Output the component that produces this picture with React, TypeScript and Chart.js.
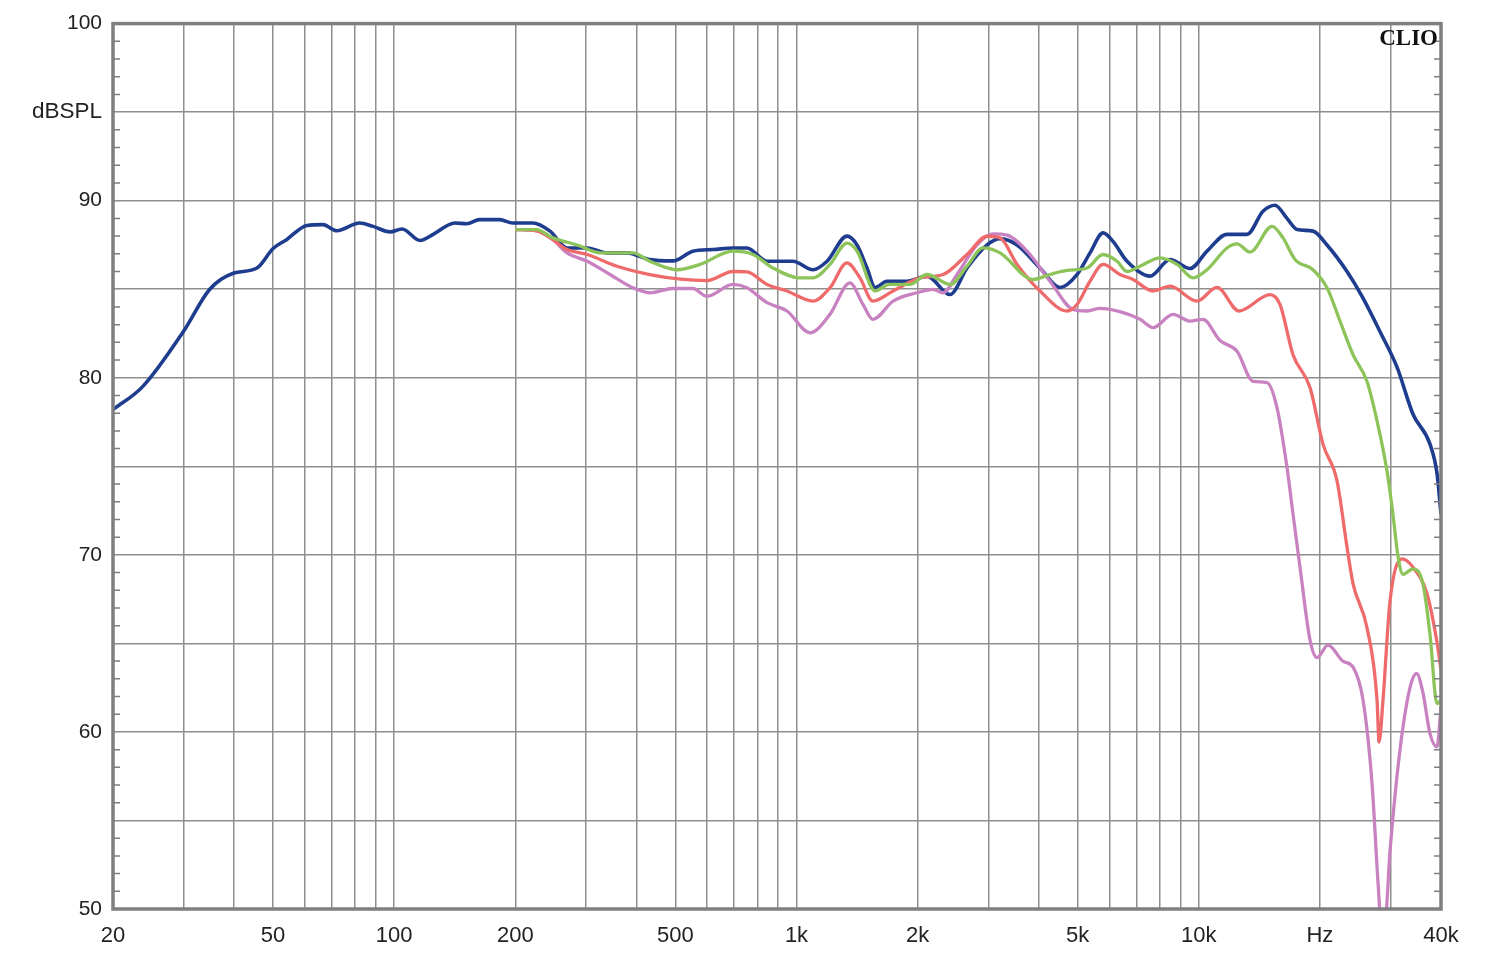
import React, { useEffect, useRef } from "react";
import { Chart, registerables } from "chart.js";

Chart.register(...registerables);

// Frequency grid ticks (Hz) and their labels
const FREQ_TICKS = [
  20, 30, 40, 50, 60, 70, 80, 90, 100,
  200, 300, 400, 500, 600, 700, 800, 900, 1000,
  2000, 3000, 4000, 5000, 6000, 7000, 8000, 9000, 10000,
  20000, 30000, 40000,
];
const FREQ_LABELS: Record<number, string> = {
  20: "20", 50: "50", 100: "100", 200: "200", 500: "500",
  1000: "1k", 2000: "2k", 5000: "5k", 10000: "10k", 20000: "Hz", 40000: "40k",
};
const DB_MIN = 50;
const DB_MAX = 100;
const DB_STEP = 5;
const DB_MINOR_STEP = 1;
const DB_UNIT_AT = 95;
const DB_UNIT = "dBSPL";
const BRAND = "CLIO";

// [frequency Hz, dB SPL]
const BLUE: [number, number][] = [
  [20, 78.2], [23.7, 79.5], [29.9, 82.6], [34.8, 85.0], [39.8, 85.9], [45.6, 86.2],
  [50, 87.3], [54, 87.8], [60.7, 88.6], [66.5, 88.65], [72, 88.3], [82, 88.74],
  [88.6, 88.55], [97.6, 88.24], [104.6, 88.4], [116, 87.75], [125, 88.1], [141.6, 88.74],
  [151.6, 88.7], [163, 88.93], [183, 88.93], [197, 88.74], [221, 88.74], [244, 88.28],
  [269, 87.33], [302, 87.33], [338, 87.05], [379, 87.05], [432, 86.67], [493, 86.6],
  [553, 87.15], [620, 87.24], [695, 87.33], [753, 87.33], [845, 86.58], [980, 86.58],
  [1099, 86.1], [1191, 86.58], [1335, 88.0], [1414, 87.5], [1497, 86.2], [1568, 85.1],
  [1679, 85.45], [1882, 85.45], [2110, 85.74], [2408, 84.7], [2654, 86.2], [2977, 87.5],
  [3206, 87.86], [3534, 87.5], [4030, 86.2], [4519, 85.1], [4980, 85.83], [5366, 87.05],
  [5781, 88.18], [6120, 87.7], [6632, 86.58], [7564, 85.74], [8483, 86.68], [9511, 86.17],
  [10484, 87.15], [11752, 88.1], [13178, 88.1], [14442, 89.4], [15468, 89.74], [16568, 89.0],
  [17546, 88.37], [19224, 88.28], [20832, 87.5], [23360, 86.0], [25600, 84.5], [28220, 82.6],
  [31100, 80.6], [34080, 77.94], [37560, 76.25], [39100, 74.6], [40000, 72.3],
];

const GREEN: [number, number][] = [
  [200, 88.37], [226, 88.37], [248, 87.9], [285, 87.5], [325, 87.05], [392, 87.05],
  [432, 86.58], [505, 86.1], [576, 86.4], [695, 87.15], [780, 86.96], [874, 86.2],
  [1020, 85.64], [1099, 85.64], [1211, 86.4], [1335, 87.6], [1414, 87.15], [1568, 84.9],
  [1702, 85.27], [1914, 85.27], [2110, 85.83], [2408, 85.27], [2654, 86.3], [2908, 87.33],
  [3206, 87.05], [3872, 85.55], [4268, 85.83], [4704, 86.06], [5276, 86.2], [5781, 86.96],
  [6262, 86.58], [6632, 86.0], [7142, 86.3], [8010, 86.77], [8830, 86.4], [9676, 85.64],
  [10484, 86.1], [11752, 87.33], [12446, 87.56], [13412, 87.1], [15206, 88.55], [16194, 87.9],
  [17346, 86.68], [19224, 86.1], [20832, 85.08], [22440, 83.2], [24180, 81.3], [26180, 79.8],
  [27740, 77.56], [29360, 74.75], [30380, 72.3], [31280, 69.9], [32180, 68.9], [34080, 69.2],
  [36080, 68.36], [37560, 65.5], [39100, 61.6], [40000, 61.8],
];

const RED: [number, number][] = [
  [200, 88.37], [226, 88.3], [248, 87.8], [269, 87.24], [302, 86.96], [358, 86.3],
  [432, 85.83], [522, 85.55], [599, 85.49], [695, 86.0], [753, 85.98], [845, 85.27],
  [947, 84.9], [1099, 84.33], [1211, 85.08], [1335, 86.49], [1438, 85.64], [1549, 84.33],
  [1738, 84.9], [2028, 85.64], [2314, 85.83], [2654, 86.96], [2977, 87.99], [3206, 87.9],
  [3534, 86.4], [4030, 84.9], [4704, 83.77], [4980, 84.14], [5366, 85.45], [5781, 86.4],
  [6370, 85.83], [6862, 85.55], [7696, 84.9], [8483, 85.17], [9900, 84.33], [11098, 85.1],
  [12588, 83.77], [15032, 84.7], [15914, 84.14], [17148, 81.3], [18898, 79.45], [20358, 76.25],
  [22060, 74.18], [23360, 70.43], [24180, 68.36], [26180, 65.9], [27740, 61.8], [28060, 59.43],
  [28700, 61.8], [29880, 67.4], [32000, 69.77], [34080, 69.3], [36920, 67.8], [39000, 65.2],
  [40000, 63.5],
];

const PINK: [number, number][] = [
  [200, 88.37], [226, 88.3], [248, 87.8], [269, 87.05], [302, 86.58], [344, 85.83],
  [392, 85.08], [432, 84.8], [493, 85.04], [553, 85.04], [599, 84.6], [695, 85.27],
  [753, 85.08], [845, 84.24], [947, 83.77], [1080, 82.54], [1211, 83.58], [1358, 85.36],
  [1463, 84.14], [1549, 83.3], [1738, 84.33], [1993, 84.8], [2184, 84.99], [2314, 84.8],
  [2506, 85.83], [2810, 87.5], [3078, 88.12], [3336, 88.05], [3742, 87.15], [4268, 85.45],
  [4868, 83.86], [5276, 83.77], [5680, 83.92], [6370, 83.73], [7142, 83.3], [7696, 82.83],
  [8628, 83.58], [9511, 83.2], [10244, 83.3], [11294, 82.1], [12446, 81.5], [13638, 79.8],
  [14776, 79.73], [15644, 78.32], [16568, 74.94], [17148, 72.3], [17848, 69.3], [18898, 65.2],
  [19670, 64.2], [20948, 64.9], [22820, 64.0], [24180, 63.66], [25600, 61.8], [26952, 57.1],
  [27894, 51.5], [28380, 49.3], [29020, 49.3], [29880, 53.3], [31620, 58.96], [33500, 62.5],
  [34800, 63.3], [36080, 62.2], [37560, 59.9], [39100, 59.15], [40000, 61.4],
];

const SERIES = [
  { data: GREEN, color: "#8cc45a", width: 3.3 },
  { data: RED, color: "#ef6b6b", width: 3.3 },
  { data: PINK, color: "#c882c2", width: 3.3 },
  { data: BLUE, color: "#1f3d8f", width: 3.6 },
];

const GRID = "#8e8e8e";
const FRAME = "#7f7f7f";
const FONT_FAMILY = '"Liberation Sans", Arial, sans-serif';

const framePlugin = {
  id: "frame",
  afterDraw(chart: any) {
    const { ctx, chartArea } = chart;
    const { left, right, top, bottom } = chartArea;
    const y = chart.scales.y;
    ctx.save();
    ctx.strokeStyle = FRAME;
    ctx.lineWidth = 1.5;
    for (let v = DB_MIN; v <= DB_MAX; v += DB_MINOR_STEP) {
      if (v % DB_STEP === 0) continue;
      const py = y.getPixelForValue(v);
      ctx.beginPath();
      ctx.moveTo(left, py);
      ctx.lineTo(left + 7, py);
      ctx.moveTo(right - 7, py);
      ctx.lineTo(right, py);
      ctx.stroke();
    }
    ctx.lineWidth = 3.5;
    ctx.strokeRect(left, top, right - left, bottom - top);
    ctx.fillStyle = "#111";
    ctx.font = 'bold 23px "Liberation Serif", "DejaVu Serif", serif';
    ctx.textAlign = "right";
    ctx.textBaseline = "alphabetic";
    ctx.fillText(BRAND, right - 3, top + 21);
    ctx.restore();
  },
};

export default function App() {
  const ref = useRef<HTMLCanvasElement | null>(null);

  useEffect(() => {
    if (!ref.current) return;
    const chart = new Chart(ref.current, {
      type: "line",
      data: {
        datasets: SERIES.map((s) => ({
          data: s.data.map(([f, db]) => ({ x: f, y: db })),
          borderColor: s.color,
          backgroundColor: s.color,
          borderWidth: s.width,
          pointRadius: 0,
          fill: false,
          cubicInterpolationMode: "monotone" as const,
        })),
      },
      options: {
        animation: false,
        responsive: true,
        maintainAspectRatio: false,
        parsing: false as any,
        layout: { padding: { left: 0, right: 59, top: 22, bottom: 0 } },
        plugins: {
          legend: { display: false },
          tooltip: { enabled: false },
        },
        scales: {
          x: {
            type: "logarithmic",
            min: 20,
            max: 40000,
            afterBuildTicks: (scale: any) => {
              scale.ticks = FREQ_TICKS.map((v) => ({ value: v }));
            },
            afterFit: (scale: any) => {
              scale.height = 49;
            },
            ticks: {
              autoSkip: false,
              maxRotation: 0,
              padding: 14,
              color: "#222",
              font: { family: FONT_FAMILY, size: 22 },
              callback: (v: any) => FREQ_LABELS[Number(v)] ?? "",
            },
            grid: { color: GRID, lineWidth: 1.5, drawTicks: false },
            border: { display: false },
          },
          y: {
            type: "linear",
            min: DB_MIN,
            max: DB_MAX,
            afterFit: (scale: any) => {
              scale.width = 113;
            },
            ticks: {
              stepSize: DB_STEP,
              autoSkip: false,
              padding: 11,
              color: "#222",
              font: (c: any) => ({
                family: FONT_FAMILY,
                size: c.tick && c.tick.value === DB_UNIT_AT ? 22.5 : 21,
              }),
              callback: (v: any) => {
                const n = Number(v);
                if (n === DB_UNIT_AT) return DB_UNIT;
                return n % 10 === 0 ? String(n) : "";
              },
            },
            grid: { color: GRID, lineWidth: 1.5, drawTicks: false },
            border: { display: false },
          },
        },
      },
      plugins: [framePlugin],
    });
    return () => chart.destroy();
  }, []);

  return (
    <div
      style={{
        position: "fixed",
        left: 0,
        top: 0,
        width: 1500,
        height: 958,
        background: "#fff",
      }}
    >
      <canvas ref={ref} />
    </div>
  );
}
